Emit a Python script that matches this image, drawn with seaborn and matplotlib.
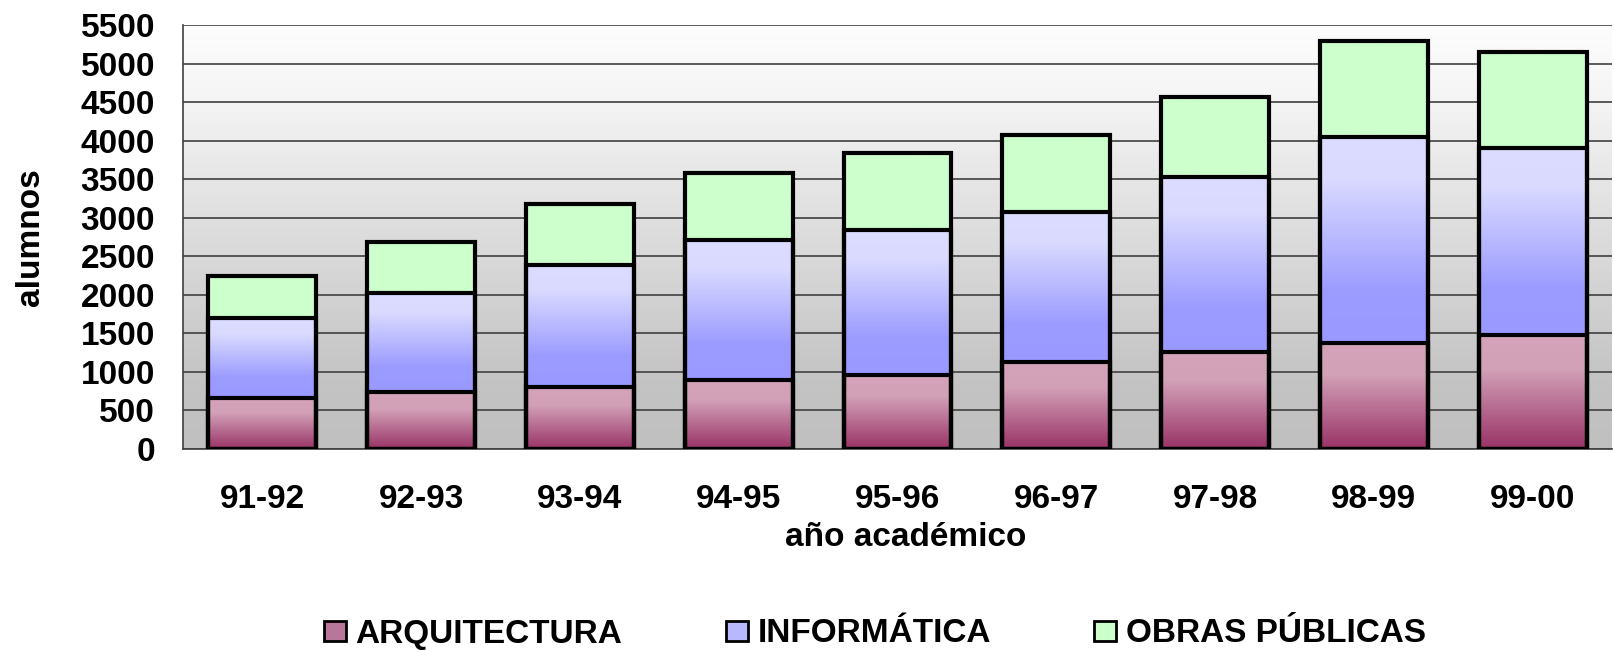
import numpy as np
import pandas as pd
import matplotlib
matplotlib.use("Agg")
import matplotlib.pyplot as plt
import seaborn as sns
from matplotlib.colors import LinearSegmentedColormap
from matplotlib.patches import Patch

# --- data ---
years = ["91-92", "92-93", "93-94", "94-95", "95-96", "96-97", "97-98", "98-99", "99-00"]
arquitectura = [665, 735, 810, 900, 965, 1135, 1255, 1375, 1475]
informatica = [1030, 1295, 1580, 1810, 1880, 1940, 2270, 2670, 2425]
obras_publicas = [550, 660, 790, 875, 990, 1000, 1045, 1250, 1255]
series_names = ["ARQUITECTURA", "INFORMÁTICA", "OBRAS PÚBLICAS"]
yticks = list(range(0, 5501, 500))

df = pd.DataFrame({"curso": years, "arq": arquitectura, "inf": informatica, "obr": obras_publicas})
df["arq_top"] = df["arq"]
df["inf_top"] = df["arq"] + df["inf"]
df["total"] = df["inf_top"] + df["obr"]

sns.set_style("white")
plt.rcParams["font.family"] = ["Liberation Sans", "DejaVu Sans"]
plt.rcParams["font.weight"] = "bold"
for k in ["text.color", "axes.labelcolor", "xtick.color", "ytick.color"]:
    plt.rcParams[k] = "black"
FS = 24

# gradients
cm_arq = LinearSegmentedColormap.from_list("arq", [(0, "#993366"), (0.7, "#d2a0b7"), (1, "#d4a3ba")])
cm_inf = LinearSegmentedColormap.from_list("inf", [(0, "#9999ff"), (0.25, "#9b9bff"), (0.8, "#dadaff"), (1, "#dcdcff")])
cm_obr = LinearSegmentedColormap.from_list("obr", ["#ccffcc", "#ccffcc"])
cm_bg = LinearSegmentedColormap.from_list("bg", [(0, "#c0c0c0"), (0.15, "#c3c3c3"), (0.5, "#dcdcdc"), (0.85, "#f6f6f6"), (1, "#fdfdfd")])
grad = np.linspace(0, 1, 256)[:, None]

fig = plt.figure(figsize=(16.14, 6.52), dpi=100)
ax = fig.add_axes([183 / 1614, 203 / 652, 1429 / 1614, 424 / 652])

# plot area background
ax.imshow(grad, extent=(-0.5, 8.5, 0, 5500), origin="lower", aspect="auto", cmap=cm_bg, zorder=0)

# stacked bars: cumulative totals drawn tallest first, outlines only
bar_w = 0.68
for col in ["total", "inf_top", "arq_top"]:
    sns.barplot(data=df, x="curso", y=col, color="white", width=bar_w,
                edgecolor="black", linewidth=3, ax=ax, zorder=3)
for p in ax.patches:
    p.set_facecolor("none")

# gradient fill per segment
for i in range(len(years)):
    x0, x1 = i - bar_w / 2, i + bar_w / 2
    segs = [(0, df["arq_top"][i], cm_arq),
            (df["arq_top"][i], df["inf_top"][i], cm_inf),
            (df["inf_top"][i], df["total"][i], cm_obr)]
    for lo, hi, cm in segs:
        ax.imshow(grad, extent=(x0, x1, lo, hi), origin="lower", aspect="auto", cmap=cm, zorder=2)

ax.set_xlim(-0.5, 8.5)
ax.set_ylim(0, 5500)
ax.set_yticks(yticks)
ax.set_yticklabels([str(v) for v in yticks])
ax.yaxis.grid(True, color="#404040", linewidth=1.2)
ax.set_axisbelow(True)

ax.set_xticks(range(len(years)))
ax.set_xticklabels(years)
ax.set_xticks(np.arange(-0.5, 8.5, 1), minor=True)
ax.tick_params(axis="x", which="major", length=0, pad=25, labelsize=FS)
ax.tick_params(axis="x", which="minor", length=7.2, width=1, color="#404040", direction="out")
ax.tick_params(axis="y", length=7.2, width=1, color="#404040", direction="out", labelsize=FS, pad=13)

for s in ["top", "right"]:
    ax.spines[s].set_visible(False)
for s in ["left", "bottom"]:
    ax.spines[s].set_color("#404040")
    ax.spines[s].set_linewidth(1.2)

ax.set_ylabel("alumnos", fontsize=FS, fontweight="bold")
ax.yaxis.set_label_coords(-0.096, 0.5)
ax.set_xlabel("año académico", fontsize=FS, fontweight="bold")
ax.xaxis.set_label_coords(0.506, -0.172)

handles = [Patch(facecolor="#b8769a", edgecolor="black", linewidth=2),
           Patch(facecolor="#b8b8ff", edgecolor="black", linewidth=2),
           Patch(facecolor="#ccffcc", edgecolor="black", linewidth=2)]
fig.legend(handles, series_names, loc="center", bbox_to_anchor=(875 / 1614, 1 - 634 / 652),
           ncol=3, frameon=False, prop={"weight": "bold", "size": FS},
           handlelength=0.65, handleheight=0.56, handletextpad=0.3, columnspacing=3.1,
           borderpad=0, borderaxespad=0)

fig.savefig("out.png", dpi=100)
